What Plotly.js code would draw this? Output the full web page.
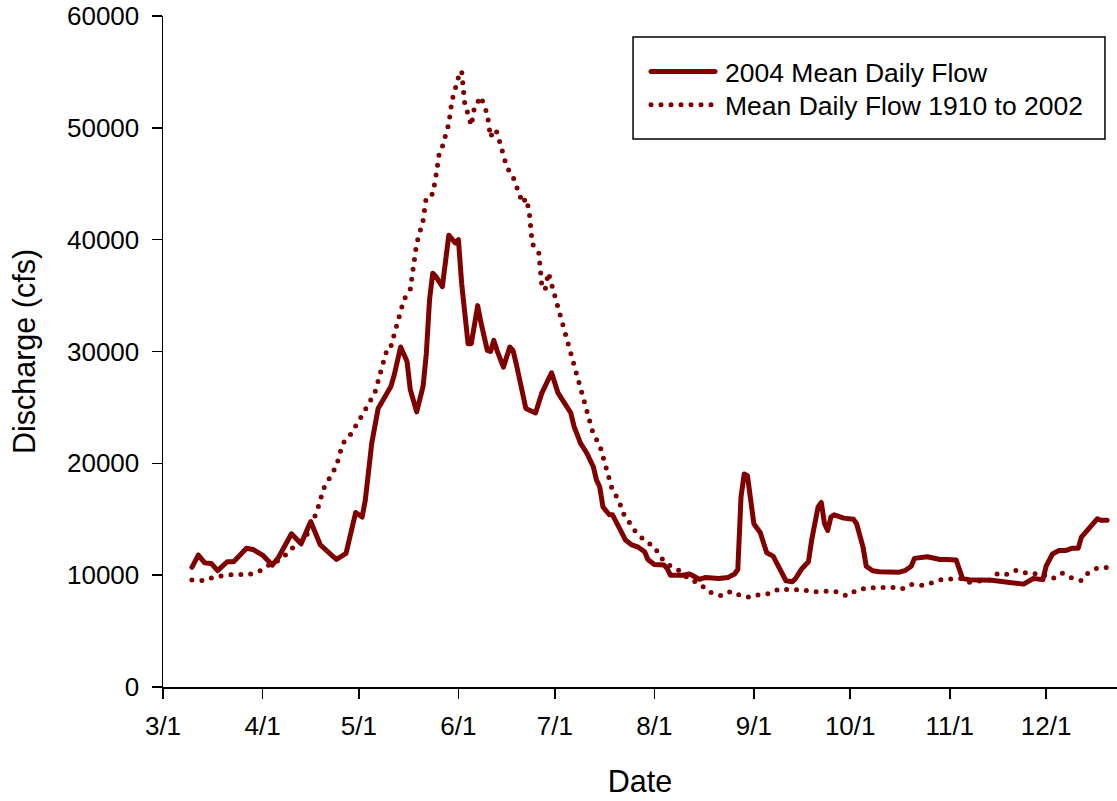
<!DOCTYPE html>
<html><head><meta charset="utf-8">
<script src="https://cdn.plot.ly/plotly-3.0.1.min.js"></script>
<style>
html,body{margin:0;padding:0;background:#fff;overflow:hidden}
#chart path.js-line{stroke-linecap:round !important;stroke-linejoin:round !important}
</style></head><body><div id="chart"></div>
<script>
// Day offsets are counted from March 1, 2004
const seasonStart = Date.UTC(2004, 2, 1);

const flow2004Days = [9,11,13,15,17,20,22,26,28,31,34,36,40,43,46,49,54,57,60,62,63,65,67,68,69,71,72,74,76,77,79,81,82,83,84,85,87,89,91,92,93,95,96,98,99,101,102,103,104,106,108,109,110,112,113,116,118,121,122,123,125,127,128,129,130,132,134,135,136,137,139,140,141,143,144,146,148,150,151,153,156,157,158,162,164,167,169,173,176,178,179,180,181,182,183,184,186,188,190,192,194,196,197,199,201,202,204,205,206,207,208,209,212,215,216,218,219,221,223,229,231,233,234,238,242,244,247,249,251,258,262,266,268,271,272,274,275,277,279,281,283,285,286,288,289,291,292,294];
const flow2004 = [10700,11800,11100,11050,10400,11200,11200,12400,12300,11800,10900,11600,13700,12800,14800,12700,11400,11950,15600,15200,16700,21800,24900,25400,26100,26900,27900,30400,29100,26600,24600,26900,29800,34600,37000,36700,35800,40400,39700,40000,36100,30700,30700,34100,32600,30100,30000,31000,30100,28600,30400,30100,28900,26300,24900,24500,26300,28100,27200,26300,25400,24500,23300,22400,21800,20900,19700,18500,17900,16100,15400,15400,14800,13600,13150,12700,12500,12100,11400,10950,10900,10600,10000,10000,10100,9630,9800,9700,9800,10100,10500,17000,19050,18900,16400,14600,13800,12000,11700,10500,9500,9420,9700,10600,11200,13150,16100,16500,14600,14000,15200,15400,15100,15000,14600,12500,10800,10400,10300,10250,10400,10800,11500,11650,11400,11400,11350,9700,9600,9550,9400,9350,9200,9700,9700,9600,10800,11900,12200,12200,12400,12400,13400,14000,14400,15050,14900,14900];

const meanDays = [9,13,16,19,23,26,30,33,37,40,45,48,49,50,52,54,55,56,58,60,62,64,66,67,68,69,70,71,72,73,74,75,77,78,79,80,81,82,84,85,86,87,88,89,90,91,92,93,94,95,96,97,99,101,102,103,104,106,107,109,110,111,112,113,114,115,117,118,119,120,121,122,123,124,125,126,127,128,129,130,131,133,134,136,137,138,139,140,142,143,147,150,153,155,158,161,164,167,170,174,177,180,183,186,189,192,196,199,202,206,209,213,216,220,223,226,230,233,237,240,243,246,249,251,255,258,260,263,266,270,273,277,280,283,286,288,291,294];
const meanFlow = [9570,9500,9860,9920,10100,10000,10350,10900,11470,12340,13680,15740,16750,17730,18750,19760,20810,21790,22380,23280,24300,25310,26320,27360,28410,29420,30430,30490,31540,32580,33600,34620,35560,37580,39670,40690,41730,43820,44080,45690,47660,48320,49360,50370,52460,53470,54520,55110,52040,51240,50190,51840,52790,51210,49150,49870,49600,47570,46530,45610,44830,43820,43250,43700,42650,39610,38900,35800,35500,37050,36010,34990,33950,32910,31900,30880,29840,28820,27780,26770,25730,23670,22620,21640,20590,19560,18570,17550,16720,15680,13950,13080,12550,11570,10820,10370,9600,9270,8500,8140,8560,8160,8020,8290,8340,8790,8650,8740,8500,8560,8590,8140,8650,8920,8830,8970,8760,9180,9090,9360,9660,9660,9720,9360,9550,9600,10170,10080,10460,10080,10170,9690,10190,9750,9510,10170,10640,10700];

const tickDates = ['2004-03-01','2004-04-01','2004-05-01','2004-06-01','2004-07-01','2004-08-01','2004-09-01','2004-10-01','2004-11-01','2004-12-01'];
const tickLabels = ['3/1','4/1','5/1','6/1','7/1','8/1','9/1','10/1','11/1','12/1'];

const seriesNames = ['2004 Mean Daily Flow', 'Mean Daily Flow 1910 to 2002'];

function toDate(d) {
  return new Date(seasonStart + d * 86400000).toISOString().slice(0, 10);
}

const RED = '#800000';
const FONT = 'Liberation Sans, Arial, sans-serif';

const traces = [
  {
    x: meanDays.map(toDate), y: meanFlow, type: 'scatter', mode: 'lines',
    name: seriesNames[1], legend: 'legend2',
    line: {color: RED, width: 5, dash: '0px,10px'}
  },
  {
    x: flow2004Days.map(toDate), y: flow2004, type: 'scatter', mode: 'lines',
    name: seriesNames[0], legend: 'legend',
    line: {color: RED, width: 5}
  }
];

const legendStyle = {
  xanchor: 'left', yanchor: 'top',
  bgcolor: 'rgba(0,0,0,0)', borderwidth: 0,
  font: {family: FONT, size: 26.5, color: '#000'},
  itemwidth: 69
};

const layout = {
  width: 1117, height: 801,
  margin: {l: 163, r: 0, t: 16, b: 114},
  paper_bgcolor: '#fff', plot_bgcolor: '#fff',
  font: {family: FONT, color: '#000', size: 26},
  showlegend: true,
  legend: Object.assign({x: 0.5063, y: 0.9527}, legendStyle),
  legend2: Object.assign({x: 0.5063, y: 0.9031}, legendStyle),
  shapes: [{
    type: 'rect', xref: 'paper', yref: 'paper',
    x0: 0.4927, x1: 0.9874, y0: 0.8167, y1: 0.9687,
    line: {color: '#000', width: 1.5}, fillcolor: '#fff', layer: 'above'
  }],
  xaxis: {
    type: 'date',
    range: ['2004-03-01', '2004-12-23 02:00'],
    tickmode: 'array', tickvals: tickDates, ticktext: tickLabels,
    ticks: 'outside', ticklen: 10, tickwidth: 1.5, tickcolor: '#000',
    showline: true, linecolor: '#000', linewidth: 1.5,
    showgrid: false, zeroline: false,
    tickfont: {family: FONT, size: 26, color: '#000'},
    ticklabelstandoff: 5,
    title: {text: 'Date', font: {family: FONT, size: 30.5, color: '#000'}, standoff: 31}
  },
  yaxis: {
    range: [0, 60000], dtick: 10000, tick0: 0, tickformat: 'd',
    ticks: 'outside', ticklen: 10, tickwidth: 1.5, tickcolor: '#000',
    showline: true, linecolor: '#000', linewidth: 1.5,
    showgrid: false, zeroline: false,
    tickfont: {family: FONT, size: 26, color: '#000'},
    ticklabelstandoff: 7,
    title: {text: 'Discharge (cfs)', font: {family: FONT, size: 30.5, color: '#000'}, standoff: 22}
  }
};

Plotly.newPlot('chart', traces, layout, {staticPlot: true, displayModeBar: false}).then(function () {
  document.querySelectorAll('#chart .legendlines path').forEach(function (p) {
    p.setAttribute('d', 'M5,0h64');
  });
});
</script>
</body></html>
